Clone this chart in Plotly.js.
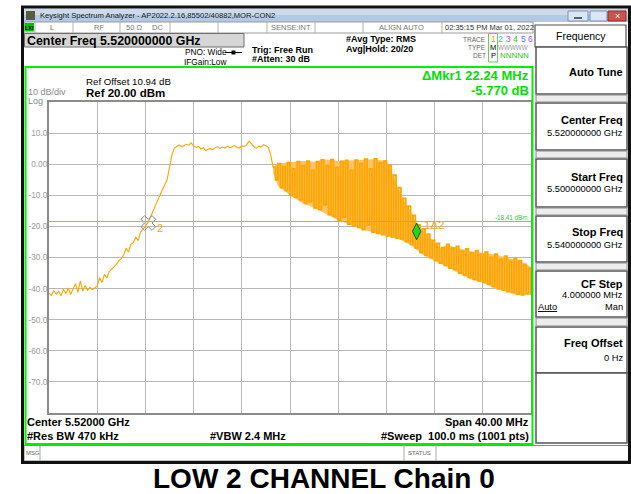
<!DOCTYPE html>
<html><head><meta charset="utf-8">
<script src="https://cdn.plot.ly/plotly-3.0.1.min.js"></script>
<style>html,body{margin:0;padding:0;background:#fff;}#chart{width:631px;height:494px;}</style>
</head><body><div id="chart"></div>
<script>
// ---------------- DATA ----------------
const startFreqGHz = 5.500;
const stopFreqGHz = 5.540;
const refLevel = 20;
const bottomLevel = -80;
const yTickVals = [-70, -60, -50, -40, -30, -20, -10, 0, 10];
const yTickText = ['-70.0', '-60.0', '-50.0', '-40.0', '-30.0', '-20.0', '-10.0', '0.00', '10.0'];
const xGridGHz = [5.504, 5.508, 5.512, 5.516, 5.520, 5.524, 5.528, 5.532, 5.536];

// rising edge + in-band plateau (offset from start, MHz / dBm)
const edgeFreqMHz = [0,0.2,0.4,0.6,0.8,1.0,1.2,1.4,1.6,1.8,2.0,2.2,2.4,2.6,2.8,3.0,3.2,3.4,3.6,3.8,4.0,4.2,4.4,4.6,4.8,5.0,5.2,5.4,5.6,5.8,6.0,6.2,6.4,6.6,6.8,7.0,7.2,7.4,7.6,7.8,8.0,8.2,8.4,8.6,8.8,9.0,9.2,9.4,9.6,9.8,10.0,10.2,10.4,10.6,10.8,11.0,11.2,11.4,11.6,11.8,12.0,12.2,12.4,12.6,12.8,13.0,13.2,13.4,13.6,13.8,14.0,14.2,14.4,14.6,14.8,15.0,15.2,15.4,15.6,15.8,16.0,16.2,16.4,16.6,16.8,17.0,17.2,17.4,17.6,17.8,18.0,18.2,18.4,18.6];
const edgeLevel = [-41.5,-42.2,-40.6,-41.8,-40.9,-42.3,-40.2,-41.6,-39.8,-41.9,-40.1,-38.4,-41.2,-37.5,-40.8,-39.0,-40.5,-39.6,-40.3,-39.8,-39.2,-36.5,-38.0,-35.4,-36.6,-34.5,-33.8,-32.9,-32.2,-31.0,-30.4,-29.1,-27.0,-28.3,-25.8,-25.2,-23.4,-24.6,-21.8,-21.0,-20.0,-18.8,-17.2,-15.2,-13.6,-11.8,-10.0,-8.3,-6.7,-5.0,-1.0,3.0,5.2,5.7,6.2,5.6,5.9,6.4,6.1,6.9,5.8,5.4,5.7,4.9,5.3,4.4,4.8,5.0,4.7,5.4,5.6,5.1,5.5,5.2,5.8,5.3,5.6,6.0,5.4,5.2,5.9,5.7,6.2,7.4,6.6,5.6,5.1,5.8,5.5,6.3,5.9,5.4,3.0,-1.0];

// bursty upper region (alternating sweep values)
const burstFreqMHz = [18.6,18.8,19.0,19.2,19.4,19.6,19.8,20.0,20.2,20.4,20.6,20.8,21.0,21.2,21.4,21.6,21.8,22.0,22.2,22.4,22.6,22.8,23.0,23.2,23.4,23.6,23.8,24.0,24.2,24.4,24.6,24.8,25.0,25.2,25.4,25.6,25.8,26.0,26.2,26.4,26.6,26.8,27.0,27.2,27.4,27.6,27.8,28.0,28.2,28.4,28.6,28.8,29.0,29.2,29.4,29.6,29.8,30.0,30.2,30.4,30.6,30.8,31.0,31.2,31.4,31.6,31.8,32.0,32.2,32.4,32.6,32.8,33.0,33.2,33.4,33.6,33.8,34.0,34.2,34.4,34.6,34.8,35.0,35.2,35.4,35.6,35.8,36.0,36.2,36.4,36.6,36.8,37.0,37.2,37.4,37.6,37.8,38.0,38.2,38.4,38.6,38.8,39.0,39.2,39.4,39.6,39.8,40.0];
const burstLevel = [-1.0,-5.0,0.2,-7.5,-0.8,-8.5,0.5,-10.0,-1.5,-10.6,0.8,-11.5,-0.5,-12.6,1.0,-12.0,-2.0,-14.0,0.8,-14.5,1.4,-13.0,-0.5,-16.2,1.5,-16.8,-1.0,-18.0,0.9,-17.0,1.2,-19.3,-2.0,-19.8,1.3,-20.3,0.2,-21.0,1.6,-19.5,-1.5,-21.8,1.7,-22.2,0.4,-22.6,1.1,-23.0,-0.5,-23.4,-3.5,-23.8,-7.5,-24.0,-11.0,-24.8,-13.5,-25.8,-16.5,-27.0,-19.5,-28.4,-20.8,-29.3,-22.5,-30.0,-24.5,-31.0,-25.5,-31.8,-26.8,-32.5,-25.8,-33.4,-27.0,-33.8,-26.4,-35.0,-28.0,-35.6,-27.2,-36.4,-28.6,-37.0,-27.8,-37.5,-29.0,-38.0,-28.3,-38.6,-30.0,-39.3,-28.9,-40.0,-30.5,-40.4,-29.6,-41.0,-31.2,-41.3,-30.4,-41.8,-31.0,-42.0,-32.2,-41.6,-33.5,-42.0];

// envelope of the bursty region
const envFreqMHz = [18.6,19,20,21,22,23,24,25,26,27,28,28.5,29,29.5,30,30.5,31,31.5,32,32.5,33,34,35,36,37,38,39,40];
const envUpper = [-1,0.3,0.6,1.0,0.8,1.5,1.0,1.2,1.5,1.6,1.0,-3,-8,-12,-15,-19,-21,-23,-25,-27,-26,-27,-28,-28.5,-29,-30,-31,-33];
const envLower = [-3,-7,-10,-12.5,-14,-16,-18,-19.5,-21,-22,-23,-23.5,-24,-25,-26,-27.5,-29,-30,-31,-32,-33,-35,-37,-38,-40,-41,-42,-42];

// markers
const mkr1 = {freqMHz: 30.51, level: -21.6};
const mkr2 = {freqMHz: 8.24, level: -18.9};
const displayLineDbm = -18.41;

// ---------------- helpers ----------------
const toGHz = a => a.map(f => startFreqGHz + f / 1000);
const F = 'Liberation Sans, Arial, sans-serif';
const PL = 49, PR = 531, PT = 102, PB = 413;
const px = x => (x - PL) / (PR - PL);
const py = y => (PB - y) / (PB - PT);
const shapes = [];
const ann = [];
function R(x0, y0, x1, y1, fill, lc, lw) {
  shapes.push({type: 'rect', xref: 'paper', yref: 'paper', x0: px(x0), x1: px(x1), y0: py(y1), y1: py(y0),
    fillcolor: fill || 'rgba(0,0,0,0)', line: {color: lc || 'rgba(0,0,0,0)', width: lw || 0}, layer: 'above'});
}
function L(x0, y0, x1, y1, c, w) {
  shapes.push({type: 'line', xref: 'paper', yref: 'paper', x0: px(x0), x1: px(x1), y0: py(y0), y1: py(y1),
    line: {color: c, width: w || 1}, layer: 'above'});
}
function T(x, y, t, o) {
  o = o || {};
  ann.push({xref: 'paper', yref: 'paper', x: px(x), y: py(y), text: t, showarrow: false,
    xanchor: o.a || 'left', yanchor: 'middle', borderpad: 0,
    font: {family: o.f || F, size: o.s || 9, color: o.c || '#000'}});
}

// ---------------- chrome ----------------
// title bar
R(24, 8.5, 628, 15, '#CCDAEC');
R(24, 15, 628, 22, '#B3C8E3');
R(26, 11, 35, 20, '#5b5a3a');
T(39, 15.5, 'Keysight Spectrum Analyzer - AP2022.2.16,85502/40882,MOR-CON2', {s: 7.6, c: '#1a1a1a'});
R(568, 11, 588, 21, '#DCE6F2', '#7D93B2', 1);
R(590, 11, 607, 21, '#DCE6F2', '#7D93B2', 1);
R(608, 11, 626, 21, '#C9534E', '#8A3030', 1);
L(574, 18, 582, 18, '#333', 1.5);
T(617, 16, '×', {s: 9, c: '#fff', a: 'center'});

// status row
R(24, 22, 533, 33, '#fff', '#9a9a9a', 1);
[35, 73, 120, 170, 218, 267, 315, 363, 442].forEach(x => L(x, 22, x, 33, '#b3b3b3', 1));
R(24.5, 23, 34, 31.5, '#00C000');
T(29, 27.5, '<b>LXI</b>', {s: 5.5, a: 'center'});
T(49, 28, 'L', {s: 7.5, c: '#8a5a3a'});
T(93, 28, 'RF', {s: 7.5, c: '#777'});
T(125, 28, '50 Ω', {s: 7.5, c: '#777'});
T(151, 28, 'DC', {s: 7.5, c: '#777'});
T(312, 28, 'SENSE:INT', {s: 7.5, c: '#777', a: 'right'});
T(425, 28, 'ALIGN AUTO', {s: 7.5, c: '#777', a: 'right'});
T(444, 28, '02:35:15 PM Mar 01, 2022', {s: 7.5, c: '#333'});

// center freq box
R(24.5, 33.5, 244, 47, '#D6D6D6', '#6f6f6f', 1);
T(26, 40.5, '<b>Center Freq 5.520000000 GHz</b>', {s: 12.4});
T(184, 52.5, 'PNO: Wide', {s: 8.3});
L(225, 52.5, 242, 52.5, '#000', 1);
R(231.5, 50.5, 235.5, 54.5, '#000');
T(183, 61.5, 'IFGain:Low', {s: 8.3});
T(251, 49.5, '<b>Trig: Free Run</b>', {s: 9});
T(251, 59.5, '<b>#Atten: 30 dB</b>', {s: 9});
T(345, 39, '<b>#Avg Type: RMS</b>', {s: 9});
T(345, 48.5, '<b>Avg|Hold: 20/20</b>', {s: 9});

// trace table
T(487, 39, 'TRACE', {s: 6.5, c: '#666', a: 'right'});
T(487, 47.5, 'TYPE', {s: 6.5, c: '#666', a: 'right'});
T(487, 55.5, 'DET', {s: 6.5, c: '#666', a: 'right'});
R(488.5, 33.5, 497.5, 62, null, '#66cc66', 1);
const traceColors = ['#F39C12', '#22C8E0', '#E040E0', '#30C030', '#5A7BFF', '#B050F0'];
const traceNums = ['1', '2', '3', '4', '5', '6'];
const traceX = [493, 500.5, 508, 515.5, 523, 530];
traceNums.forEach((n, i) => T(traceX[i], 39, n, {s: 8.5, c: traceColors[i], a: 'center'}));
T(493, 47.5, 'M', {s: 7.5, a: 'center'});
T(497, 47.5, 'WWWWW', {s: 6.3, c: '#999'});
T(493, 55.5, 'P', {s: 7.5, a: 'center'});
T(499, 55.5, 'NNNNN', {s: 8, c: '#30C030'});

// right softkey panel
R(535, 25, 626, 47, '#fff', '#555', 1.2);
T(580.5, 35.5, 'Frequency', {s: 10.5, a: 'center'});
[[47, 94], [103, 150], [159, 207], [216, 262], [271, 317], [327, 373], [373, 443]].forEach(b => R(536, b[0], 627, b[1], '#fff', '#555', 1.5));
[[95, 102], [151, 158], [208, 215], [263, 270], [318, 326]].forEach(b => R(536, b[0], 627, b[1], '#EDEDED', '#888', 1));
T(624, 72, '<b>Auto Tune</b>', {s: 11, a: 'right'});
T(624, 120, '<b>Center Freq</b>', {s: 11, a: 'right'});
T(624, 133, '5.520000000 GHz', {s: 9.3, a: 'right'});
T(624, 177, '<b>Start Freq</b>', {s: 11, a: 'right'});
T(624, 189, '5.500000000 GHz', {s: 9.3, a: 'right'});
T(624, 232, '<b>Stop Freq</b>', {s: 11, a: 'right'});
T(624, 245, '5.540000000 GHz', {s: 9.3, a: 'right'});
T(624, 284, '<b>CF Step</b>', {s: 11, a: 'right'});
T(624, 295, '4.000000 MHz', {s: 9.3, a: 'right'});
T(537, 307, '<u>Auto</u>', {s: 9.3});
T(624, 307, 'Man', {s: 9.3, a: 'right'});
T(624, 343, '<b>Freq Offset</b>', {s: 11, a: 'right'});
T(624, 358, '0 Hz', {s: 9.3, a: 'right'});

// green display frame
R(25.5, 67, 532.5, 444, null, '#00F000', 2);

// MSG / STATUS bar
R(24, 445.5, 629, 461, '#fff', '#888', 1);
[40, 404, 436].forEach(x => L(x, 445.5, x, 461, '#aaa', 1));
T(25, 452.5, 'MSG', {s: 6, c: '#666'});
T(407, 452.5, 'STATUS', {s: 6, c: '#666'});

// outer black screenshot frame
R(22.5, 7, 629.5, 462.5, null, '#111', 3);

// in-screen labels
T(85, 81.5, 'Ref Offset 10.94 dB', {s: 9.7});
T(85, 93, '<b>Ref 20.00 dBm</b>', {s: 11.5});
T(27, 92.5, '10 dB/div', {s: 9, c: '#8a8a8a'});
T(27, 101.5, 'Log', {s: 9, c: '#8a8a8a'});
T(530, 76, '<b>ΔMkr1 22.24 MHz</b>', {s: 13, c: '#00E000', a: 'right'});
T(530, 90.5, '<b>-5.770 dB</b>', {s: 13, c: '#00E000', a: 'right'});
T(26, 422, '<b>Center 5.52000 GHz</b>', {s: 11});
T(26, 435.5, '<b>#Res BW 470 kHz</b>', {s: 11});
T(209, 435.5, '<b>#VBW 2.4 MHz</b>', {s: 11});
T(530, 422, '<b>Span 40.00 MHz</b>', {s: 11, a: 'right'});
T(530, 435.5, '<b>#Sweep  100.0 ms (1001 pts)</b>', {s: 11, a: 'right'});
T(529, 217.5, '-18.41 dBm', {s: 6.3, c: '#30D030', a: 'right'});
T(156, 227.5, '2', {s: 11, c: '#F5A623'});
T(423, 224.5, '1Δ2', {s: 11.5, c: '#F5A623'});

// bottom caption
T(324, 478, '<b>LOW 2 CHANNEL Chain 0</b>', {s: 28, a: 'center'});

// display line (data-level)
shapes.push({type: 'line', xref: 'paper', yref: 'y', x0: 0, x1: 1, y0: displayLineDbm, y1: displayLineDbm,
  line: {color: '#55E055', width: 1}, layer: 'above'});

// ---------------- traces ----------------
const orange = '#FFA500';
const traces = [
  {x: toGHz(envFreqMHz), y: envLower, type: 'scatter', mode: 'lines', line: {width: 0, color: 'rgba(0,0,0,0)'}, hoverinfo: 'skip'},
  {x: toGHz(envFreqMHz), y: envUpper, type: 'scatter', mode: 'lines', line: {width: 0, color: 'rgba(0,0,0,0)'}, fill: 'tonexty', fillcolor: '#FFC465', hoverinfo: 'skip'},
  {x: toGHz(burstFreqMHz), y: burstLevel, type: 'scatter', mode: 'lines', line: {color: orange, width: 1.8, shape: 'hv'}},
  {x: toGHz(edgeFreqMHz), y: edgeLevel, type: 'scatter', mode: 'lines', line: {color: orange, width: 1.1}},
  {x: toGHz([mkr2.freqMHz]), y: [mkr2.level], type: 'scatter', mode: 'markers',
    marker: {symbol: 'x-open', size: 13, color: '#8a8a8a', line: {color: '#8a8a8a', width: 1}}},
  {x: toGHz([mkr1.freqMHz]), y: [mkr1.level], type: 'scatter', mode: 'markers',
    marker: {symbol: 'diamond-tall', size: 12, color: '#1ED81E', line: {color: '#1a5a1a', width: 1}}}
];

const layout = {
  width: 631, height: 494,
  margin: {l: PL, r: 631 - PR, t: PT, b: 494 - PB, pad: 0},
  paper_bgcolor: '#fff', plot_bgcolor: 'rgba(0,0,0,0)',
  showlegend: false,
  xaxis: {range: [startFreqGHz, stopFreqGHz], tickvals: xGridGHz, showticklabels: false, ticks: '',
    showgrid: true, gridcolor: '#b8b8b8', gridwidth: 1, zeroline: false,
    showline: true, mirror: true, linecolor: '#8c8c8c', linewidth: 2, fixedrange: true},
  yaxis: {range: [bottomLevel, refLevel], tickvals: yTickVals, ticktext: yTickText, ticks: '',
    ticklabelstandoff: -2,
    tickfont: {family: F, size: 8.3, color: '#9a9a9a'},
    showgrid: true, gridcolor: '#b8b8b8', gridwidth: 1, zeroline: false,
    showline: true, mirror: true, linecolor: '#8c8c8c', linewidth: 2, fixedrange: true},
  shapes: shapes,
  annotations: ann
};
Plotly.newPlot('chart', traces, layout, {staticPlot: true, displayModeBar: false});
</script>
</body></html>
